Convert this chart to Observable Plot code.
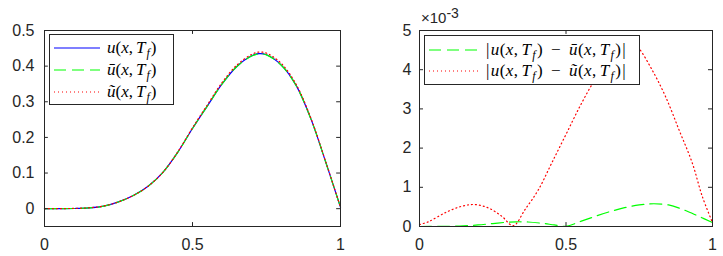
<!DOCTYPE html>
<html>
<head>
<meta charset="utf-8">
<script src="https://cdn.jsdelivr.net/npm/d3@7"></script>
<script src="https://cdn.jsdelivr.net/npm/@observablehq/plot@0.6"></script>
<style>
  html, body { margin: 0; padding: 0; background: white; }
  #wrap { position: relative; width: 723px; height: 256px; overflow: hidden; background: white; }
  .panel { position: absolute; top: 0; }
  .legend { position: absolute; background: white; border: 1px solid #262626; box-sizing: border-box; }
  .row { position: absolute; left: 0; right: 0; height: 22px; }
  .row svg { position: absolute; top: 0; }
  .row .lab { position: absolute; top: 0; line-height: 22px; font-family: "Liberation Serif", "Times New Roman", serif; font-size: 17px; color: #000; white-space: nowrap; }
  .lab i { font-style: italic; }
  .lab sub { font-size: 12px; vertical-align: -4px; line-height: 0; margin-left: 1px; margin-right: 1px; }
  .lab .op { display: inline-block; margin: 0 8px; }
  .lab .bar { display: inline-block; margin: 0 1px; }
  .lab .cm { display: inline-block; margin-right: 3px; }
  #legR .lab { letter-spacing: 0.4px; }
  #expo { position: absolute; left: 421px; top: 10px; font-family: "Liberation Sans", Arial, sans-serif; font-size: 15px; color: #262626; line-height: 16px; white-space: nowrap; }
  #expo sup { font-size: 14px; vertical-align: 5px; line-height: 0; }
</style>
</head>
<body>
<div id="wrap">
  <div id="left" class="panel" style="left:0px"></div>
  <div id="right" class="panel" style="left:362px"></div>
  <div id="expo">×10<sup>-3</sup></div>
  <div id="legL" class="legend" style="left:49px;top:34px;width:125px;height:71px"></div>
  <div id="legR" class="legend" style="left:424px;top:35px;width:216px;height:50px"></div>
</div>
<script>
// ---------- data (left panel: solutions at final time) ----------
const xU = [0, 0.05, 0.1, 0.15, 0.2, 0.25, 0.3, 0.35, 0.4, 0.45, 0.5, 0.55, 0.6, 0.65, 0.7, 0.725, 0.75, 0.8, 0.85, 0.9, 0.95, 1];
const uExact = [0, 0, 0.0005, 0.002, 0.007, 0.019, 0.037, 0.063, 0.102, 0.158, 0.225, 0.288, 0.350, 0.399, 0.429, 0.435, 0.432, 0.403, 0.346, 0.252, 0.131, 0.004];
const uBar   = [0, 0, 0.0005, 0.002, 0.007, 0.019, 0.037, 0.063, 0.102, 0.158, 0.225, 0.288, 0.350, 0.399, 0.4285, 0.4345, 0.4315, 0.4025, 0.3455, 0.2516, 0.1308, 0.004];
const uTilde = [0, 0.0001, 0.0009, 0.0025, 0.0075, 0.0190, 0.037, 0.063, 0.102, 0.159, 0.227, 0.291, 0.354, 0.403, 0.433, 0.4395, 0.4365, 0.4075, 0.349, 0.254, 0.132, 0.004];

// ---------- data (right panel: absolute errors, in units of 1e-3) ----------
const xErrBar = [0, 0.1, 0.15, 0.2, 0.25, 0.3, 0.33, 0.37, 0.42, 0.46, 0.5, 0.55, 0.6, 0.65, 0.7, 0.75, 0.8, 0.85, 0.9, 0.95, 1];
const errBar  = [0, 0.005, 0.015, 0.04, 0.075, 0.11, 0.12, 0.115, 0.08, 0.04, 0.005, 0.13, 0.26, 0.38, 0.48, 0.55, 0.58, 0.55, 0.43, 0.27, 0.1];
const xErrTilde = [0, 0.03, 0.09, 0.146, 0.19, 0.236, 0.281, 0.32, 0.36, 0.406, 0.45, 0.5, 0.55, 0.6, 0.65, 0.7, 0.74, 0.75, 0.795, 0.84, 0.886, 0.931, 0.965, 1];
const errTilde  = [0.05, 0.12, 0.36, 0.52, 0.56, 0.47, 0.26, 0.02, 0.43, 0.94, 1.6, 2.35, 3.1, 3.75, 4.2, 4.48, 4.58, 4.53, 3.98, 3.31, 2.46, 1.62, 0.77, 0.1];

// ---------- ticks ----------
const xTicks = [0, 0.5, 1];
const xTickLabels = ["0", "0.5", "1"];
const yTicksL = [0, 0.1, 0.2, 0.3, 0.4, 0.5];
const yTickLabelsL = ["0", "0.1", "0.2", "0.3", "0.4", "0.5"];
const yTicksR = [0, 1, 2, 3, 4, 5];
const yTickLabelsR = ["0", "1", "2", "3", "4", "5"];

// ---------- legend labels ----------
const uArgs = '(<i>x</i><span class="cm">,</span><i>T</i><sub><i>f</i></sub>)';
const legendLeft = [
  {html: '<i>u</i>' + uArgs, color: "#0000ff", dash: null},
  {html: '<i>ū</i>' + uArgs, color: "#00ff00", dash: "12,6"},
  {html: '<i>ũ</i>' + uArgs, color: "#ff0000", dash: "1,3"}
];
const legendRight = [
  {html: '<span class="bar">|</span><i>u</i>' + uArgs + '<span class="op">−</span><i>ū</i>' + uArgs + '<span class="bar">|</span>', color: "#00ff00", dash: "12,6"},
  {html: '<span class="bar">|</span><i>u</i>' + uArgs + '<span class="op">−</span><i>ũ</i>' + uArgs + '<span class="bar">|</span>', color: "#ff0000", dash: "1,3"}
];

const ink = "#262626";
const baseStyle = {fontFamily: "'Liberation Sans', Arial, sans-serif", fontSize: "16px", color: ink, background: "white", overflow: "visible"};

const rowsU = xU.map((x, i) => ({x, u: uExact[i], ub: uBar[i], ut: uTilde[i]}));
const rowsEB = xErrBar.map((x, i) => ({x, e: errBar[i]}));
const rowsET = xErrTilde.map((x, i) => ({x, e: errTilde[i]}));

function fmt(ticks, labels) { return d => labels[ticks.indexOf(d)] ?? String(d); }

function boxTicks(yDom, xTk, yTk, xLen, yLen) {
  return [
    Plot.ruleY(yTk, {y: d => d, x1: 0, x2: xLen, stroke: ink}),
    Plot.ruleY(yTk, {y: d => d, x1: 1 - xLen, x2: 1, stroke: ink}),
    Plot.ruleX(xTk, {x: d => d, y1: yDom[0], y2: yDom[0] + yLen, stroke: ink}),
    Plot.ruleX(xTk, {x: d => d, y1: yDom[1] - yLen, y2: yDom[1], stroke: ink})
  ];
}

const yDomL = [-0.05, 0.5];
const left = Plot.plot({
  width: 362, height: 256,
  marginLeft: 44, marginRight: 22, marginTop: 30, marginBottom: 30,
  x: {domain: [0, 1]},
  y: {domain: yDomL},
  style: baseStyle,
  marks: [
    Plot.axisX({ticks: xTicks, tickSize: 0, tickPadding: 12, label: null, tickFormat: fmt(xTicks, xTickLabels)}),
    Plot.axisY({ticks: yTicksL, tickSize: 0, tickPadding: 10, label: null, tickFormat: fmt(yTicksL, yTickLabelsL)}),
    Plot.line(rowsU, {x: "x", y: "u", stroke: "#0000ff", strokeWidth: 1.2, curve: "catmull-rom"}),
    Plot.line(rowsU, {x: "x", y: "ub", stroke: "#00ff00", strokeWidth: 1.2, strokeDasharray: "12,6", curve: "catmull-rom"}),
    Plot.line(rowsU, {x: "x", y: "ut", stroke: "#ff0000", strokeWidth: 1.2, strokeDasharray: "1,3", curve: "catmull-rom"}),
    ...boxTicks(yDomL, xTicks, yTicksL, 0.013, 0.011),
    Plot.frame({stroke: ink})
  ]
});
document.getElementById("left").append(left);

const yDomR = [0, 5];
const right = Plot.plot({
  width: 361, height: 256,
  marginLeft: 57, marginRight: 11, marginTop: 30, marginBottom: 30,
  x: {domain: [0, 1]},
  y: {domain: yDomR},
  style: baseStyle,
  marks: [
    Plot.axisX({ticks: xTicks, tickSize: 0, tickPadding: 12, label: null, tickFormat: fmt(xTicks, xTickLabels)}),
    Plot.axisY({ticks: yTicksR, tickSize: 0, tickPadding: 8, label: null, tickFormat: fmt(yTicksR, yTickLabelsR)}),
    Plot.line(rowsEB, {x: "x", y: "e", stroke: "#00ff00", strokeWidth: 1.2, strokeDasharray: "12,6", curve: "catmull-rom"}),
    Plot.line(rowsET, {x: "x", y: "e", stroke: "#ff0000", strokeWidth: 1.2, strokeDasharray: "1,3", curve: "catmull-rom"}),
    ...boxTicks(yDomR, xTicks, yTicksR, 0.0137, 0.1),
    Plot.frame({stroke: ink})
  ]
});
document.getElementById("right").append(right);

function buildLegend(el, items, rowTops, sampleLeft, sampleW, textLeft) {
  items.forEach((it, i) => {
    const row = document.createElement("div");
    row.className = "row";
    row.style.top = rowTops[i] + "px";
    const dash = it.dash ? ` stroke-dasharray="${it.dash}"` : "";
    row.innerHTML = `<svg width="${sampleW}" height="22" style="left:${sampleLeft}px"><line x1="0" y1="11" x2="${sampleW}" y2="11" stroke="${it.color}" stroke-width="1.2"${dash}/></svg><span class="lab" style="left:${textLeft}px">${it.html}</span>`;
    el.append(row);
  });
}
buildLegend(document.getElementById("legL"), legendLeft, [2, 24, 46], 4, 46, 57);
buildLegend(document.getElementById("legR"), legendRight, [3, 23.5], 4, 49, 60);
</script>
</body>
</html>
